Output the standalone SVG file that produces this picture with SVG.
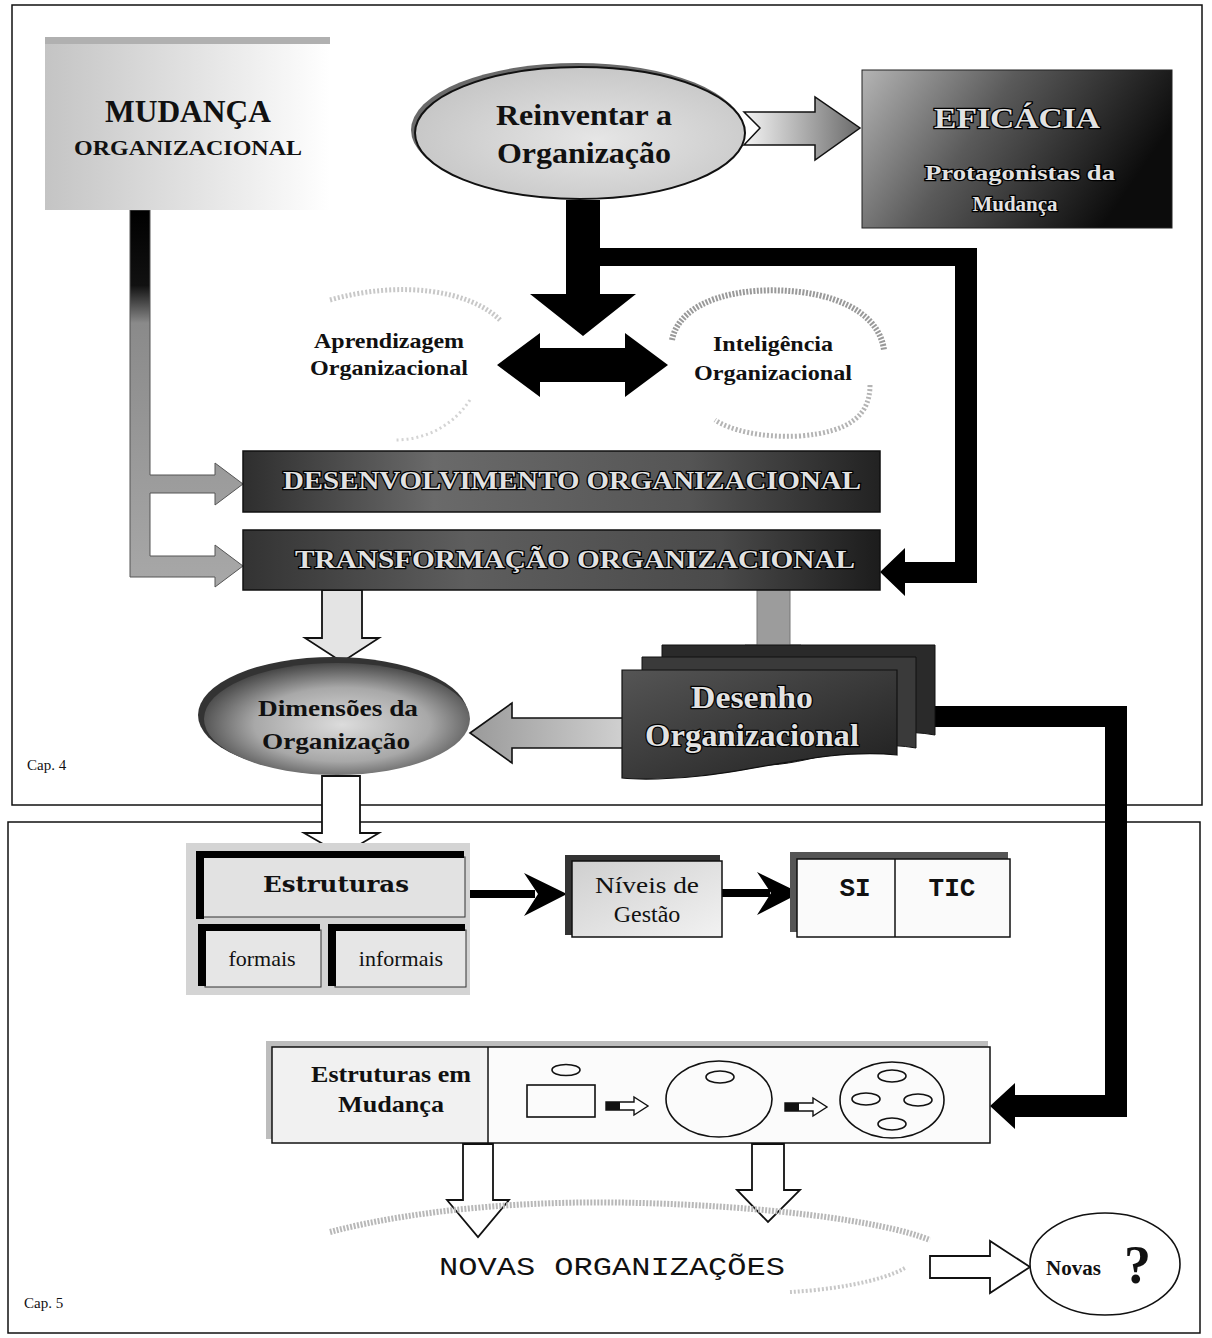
<svg xmlns="http://www.w3.org/2000/svg" width="1212" height="1338" viewBox="0 0 1212 1338">
  <style>
    .panel { fill: #ffffff; stroke: #111; stroke-width: 1.5; }
    .bs { font-family: "Liberation Serif", "Times New Roman", serif; font-weight: bold; fill: #111; }
    .rs { font-family: "Liberation Serif", "Times New Roman", serif; fill: #111; }
    .mono { font-family: "Liberation Mono", "Courier New", monospace; fill: #111; }
    .outl { font-family: "Liberation Serif", "Times New Roman", serif; font-weight: bold; fill: #e2e2e2; stroke: #000; stroke-width: 2.4; paint-order: stroke; }
    .hollow { fill: #ffffff; stroke: #111; stroke-width: 1.8; stroke-linejoin: miter; }
    .solid { fill: #000; }
    .box { fill: #e9e9e9; stroke: #111; stroke-width: 1.5; }
    .thin { fill: none; stroke: #111; stroke-width: 1.6; }
  </style>
  <defs>
    <linearGradient id="gMud" x1="0" y1="0" x2="1" y2="0">
      <stop offset="0" stop-color="#c4c4c4"/>
      <stop offset="0.45" stop-color="#dedede"/>
      <stop offset="1" stop-color="#ffffff"/>
    </linearGradient>
    <linearGradient id="gEfi" x1="0" y1="0" x2="1" y2="0.35">
      <stop offset="0" stop-color="#b4b4b4"/>
      <stop offset="0.45" stop-color="#5a5a5a"/>
      <stop offset="1" stop-color="#0c0c0c"/>
    </linearGradient>
    <linearGradient id="gArrR" x1="0" y1="0" x2="1" y2="0">
      <stop offset="0" stop-color="#f4f4f4"/>
      <stop offset="1" stop-color="#6a6a6a"/>
    </linearGradient>
    <linearGradient id="gBar" x1="0" y1="0" x2="1" y2="0">
      <stop offset="0" stop-color="#2e2e2e"/>
      <stop offset="0.3" stop-color="#6a6a6a"/>
      <stop offset="0.7" stop-color="#555"/>
      <stop offset="1" stop-color="#222"/>
    </linearGradient>
    <linearGradient id="gBar2" x1="0" y1="0" x2="1" y2="0">
      <stop offset="0" stop-color="#333"/>
      <stop offset="0.35" stop-color="#5e5e5e"/>
      <stop offset="0.75" stop-color="#4a4a4a"/>
      <stop offset="1" stop-color="#1c1c1c"/>
    </linearGradient>
    <linearGradient id="gStem" x1="0" y1="0" x2="0" y2="1">
      <stop offset="0" stop-color="#000"/>
      <stop offset="0.2" stop-color="#111"/>
      <stop offset="0.3" stop-color="#8a8a8a"/>
      <stop offset="1" stop-color="#a8a8a8"/>
    </linearGradient>
    <radialGradient id="gDim" cx="0.52" cy="0.55" r="0.6">
      <stop offset="0" stop-color="#dcdcdc"/>
      <stop offset="0.55" stop-color="#a8a8a8"/>
      <stop offset="1" stop-color="#333"/>
    </radialGradient>
    <radialGradient id="gRein" cx="0.55" cy="0.55" r="0.65">
      <stop offset="0" stop-color="#e6e6e6"/>
      <stop offset="1" stop-color="#c2c2c2"/>
    </radialGradient>
    <linearGradient id="gDoc" x1="0" y1="0" x2="1" y2="1">
      <stop offset="0" stop-color="#555"/>
      <stop offset="0.5" stop-color="#3a3a3a"/>
      <stop offset="1" stop-color="#1e1e1e"/>
    </linearGradient>
    <linearGradient id="gLeft" x1="0" y1="0" x2="1" y2="0">
      <stop offset="0" stop-color="#9a9a9a"/>
      <stop offset="1" stop-color="#d0d0d0"/>
    </linearGradient>
    <linearGradient id="gShade" x1="0" y1="0" x2="1" y2="1">
      <stop offset="0" stop-color="#cfcfcf"/>
      <stop offset="1" stop-color="#f2f2f2"/>
    </linearGradient>
  </defs>

  <!-- chapter panels -->
  <rect class="panel" x="12" y="5" width="1190" height="800"/>
  <rect class="panel" x="8" y="822" width="1192" height="511"/>
  <text class="rs" x="27" y="770" font-size="15">Cap. 4</text>
  <text class="rs" x="24" y="1308" font-size="15">Cap. 5</text>

  <!-- connectors -->
  <g id="connectors">
    <!-- stem from MUDANÇA to the two bars -->
    <path d="M130,210 L150,210 L150,475 L215,475 L215,463 L243,484 L215,505 L215,493 L150,493 L150,556 L215,556 L215,545 L243,566 L215,587 L215,577 L130,577 Z" fill="url(#gStem)" stroke="#555" stroke-width="1"/>
    <!-- Reinventar -> EFICÁCIA -->
    <path d="M744,112 L815,112 L815,97 L860,128 L815,160 L815,145 L744,145 L760,128 Z" fill="url(#gArrR)" stroke="#111" stroke-width="1.5"/>
    <!-- Reinventar down to the pair, with branch to TRANSFORMAÇÃO -->
    <path class="solid" d="M566,200 L600,200 L600,294 L636,294 L583,336 L530,294 L566,294 Z"/>
    <path class="solid" d="M600,248 L977,248 L977,583 L905,583 L905,596 L880,572 L905,548 L905,562 L955,562 L955,266 L600,266 Z"/>
    <!-- Aprendizagem <-> Inteligência -->
    <path class="solid" d="M497,365 L540,333 L540,348 L625,348 L625,333 L668,365 L625,397 L625,382 L540,382 L540,397 Z"/>
    <!-- TRANSFORMAÇÃO -> Dimensões -->
    <path d="M322,590 L322,638 L305,638 L342,662 L379,638 L362,638 L362,590 Z" fill="#e4e4e4" stroke="#111" stroke-width="1.8"/>
    <!-- TRANSFORMAÇÃO -> Desenho -->
    <path d="M757,590 L757,645 L745,645 L773,667 L801,645 L790,645 L790,590 Z" fill="#9c9c9c" stroke="#777" stroke-width="1"/>
    <!-- Desenho -> Dimensões -->
    <path d="M470,733 L512,703 L512,718 L624,718 L624,748 L512,748 L512,763 Z" fill="url(#gLeft)" stroke="#111" stroke-width="1.6"/>
    <!-- Desenho -> Estruturas em Mudança -->
    <path class="solid" d="M930,706 L1127,706 L1127,1117 L1015,1117 L1015,1129 L990,1106 L1015,1083 L1015,1095 L1105,1095 L1105,727 L930,727 Z"/>
    <!-- Dimensões -> Estruturas -->
    <path class="hollow" d="M322,776 L322,833 L304,833 L342,855 L379,833 L360,833 L360,776 Z"/>
    <!-- Estruturas -> Níveis -->
    <path class="solid" d="M470,890 L535,890 L535,898 L470,898 Z"/>
    <path class="solid" d="M567,894 L524,873 L538,894 L524,916 Z"/>
    <!-- Níveis -> SI/TIC -->
    <path class="solid" d="M722,889 L770,889 L770,897 L722,897 Z"/>
    <path class="solid" d="M800,893 L757,872 L771,893 L757,915 Z"/>
    <!-- Estruturas em Mudança -> NOVAS ORGANIZAÇÕES -->
    <path class="hollow" d="M463,1144 L463,1200 L447,1200 L478,1237 L509,1200 L493,1200 L493,1144 Z"/>
    <path class="hollow" d="M752,1144 L752,1190 L737,1190 L768,1222 L800,1190 L784,1190 L784,1144 Z"/>
    <!-- NOVAS ORGANIZAÇÕES -> Novas ? -->
    <path class="hollow" d="M930,1256 L990,1256 L990,1241 L1030,1267 L990,1293 L990,1278 L930,1278 Z"/>
  </g>

  <!-- MUDANÇA ORGANIZACIONAL -->
  <g id="mudanca">
    <rect x="45" y="37" width="285" height="173" fill="url(#gMud)"/>
    <rect x="45" y="37" width="285" height="7" fill="#b0b0b0"/>
    <text class="bs" x="188" y="122" font-size="31" text-anchor="middle" textLength="166" lengthAdjust="spacingAndGlyphs">MUDANÇA</text>
    <text class="bs" x="188" y="155" font-size="21" text-anchor="middle" textLength="228" lengthAdjust="spacingAndGlyphs">ORGANIZACIONAL</text>
  </g>

  <!-- Reinventar a Organização -->
  <g id="reinventar">
    <ellipse cx="577" cy="130" rx="166" ry="67" fill="#6a6a6a"/>
    <ellipse cx="580" cy="133" rx="165" ry="66" fill="url(#gRein)" stroke="#111" stroke-width="2"/>
    <text class="bs" x="584" y="125" font-size="30" text-anchor="middle" textLength="176" lengthAdjust="spacingAndGlyphs">Reinventar a</text>
    <text class="bs" x="584" y="163" font-size="30" text-anchor="middle" textLength="174" lengthAdjust="spacingAndGlyphs">Organização</text>
  </g>

  <!-- EFICÁCIA -->
  <g id="eficacia">
    <rect x="862" y="70" width="310" height="158" fill="url(#gEfi)" stroke="#222" stroke-width="1"/>
    <text class="outl" x="1017" y="128" font-size="29" text-anchor="middle" textLength="166" lengthAdjust="spacingAndGlyphs">EFICÁCIA</text>
    <text class="outl" x="1020" y="180" font-size="21" text-anchor="middle" stroke-width="1.6" textLength="190" lengthAdjust="spacingAndGlyphs">Protagonistas da</text>
    <text class="outl" x="1015" y="211" font-size="21" text-anchor="middle" stroke-width="1.6">Mudança</text>
  </g>

  <!-- Aprendizagem Organizacional -->
  <g id="aprendizagem">
    <path d="M330,300 C400,280 470,290 500,320" fill="none" stroke="#c8c8c8" stroke-width="5" stroke-dasharray="2 2"/>
    <path d="M470,400 C450,430 420,440 395,440" fill="none" stroke="#d4d4d4" stroke-width="3" stroke-dasharray="2 3"/>
    <text class="bs" x="389" y="348" font-size="21" text-anchor="middle" textLength="150" lengthAdjust="spacingAndGlyphs">Aprendizagem</text>
    <text class="bs" x="389" y="375" font-size="21" text-anchor="middle" textLength="158" lengthAdjust="spacingAndGlyphs">Organizacional</text>
  </g>

  <!-- Inteligência Organizacional -->
  <g id="inteligencia">
    <path d="M672,340 C680,300 740,285 800,292 C850,298 880,320 884,350" fill="none" stroke="#9a9a9a" stroke-width="6" stroke-dasharray="2 1.5"/>
    <path d="M870,385 C870,415 850,432 800,436 C760,438 730,430 715,420" fill="none" stroke="#b4b4b4" stroke-width="5" stroke-dasharray="2 2"/>
    <text class="bs" x="773" y="351" font-size="21" text-anchor="middle" textLength="120" lengthAdjust="spacingAndGlyphs">Inteligência</text>
    <text class="bs" x="773" y="380" font-size="21" text-anchor="middle" textLength="158" lengthAdjust="spacingAndGlyphs">Organizacional</text>
  </g>

  <!-- DESENVOLVIMENTO ORGANIZACIONAL -->
  <g id="desenvolvimento">
    <rect x="243" y="451" width="637" height="61" fill="url(#gBar)" stroke="#111" stroke-width="1.5"/>
    <text class="outl" x="572" y="489" font-size="25" text-anchor="middle" textLength="578" lengthAdjust="spacingAndGlyphs">DESENVOLVIMENTO ORGANIZACIONAL</text>
  </g>

  <!-- TRANSFORMAÇÃO ORGANIZACIONAL -->
  <g id="transformacao">
    <rect x="243" y="530" width="637" height="60" fill="url(#gBar2)" stroke="#111" stroke-width="1.5"/>
    <text class="outl" x="575" y="568" font-size="25" text-anchor="middle" textLength="560" lengthAdjust="spacingAndGlyphs">TRANSFORMAÇÃO ORGANIZACIONAL</text>
  </g>

  <!-- Dimensões da Organização -->
  <g id="dimensoes">
    <ellipse cx="333" cy="715" rx="135" ry="58" fill="#333"/>
    <ellipse cx="337" cy="719" rx="133" ry="56" fill="url(#gDim)"/>
    <text class="bs" x="338" y="716" font-size="24" text-anchor="middle" textLength="160" lengthAdjust="spacingAndGlyphs">Dimensões da</text>
    <text class="bs" x="336" y="749" font-size="24" text-anchor="middle" textLength="148" lengthAdjust="spacingAndGlyphs">Organização</text>
  </g>

  <!-- Desenho Organizacional (stack of documents) -->
  <g id="desenho">
    <path d="M662,645 H935 V735 C880,725 840,748 800,752 L662,752 Z" fill="#2a2a2a" stroke="#111" stroke-width="1"/>
    <path d="M642,657 H916 V748 C860,738 820,762 770,765 L642,765 Z" fill="#3a3a3a" stroke="#111" stroke-width="1"/>
    <path d="M622,670 H897 V755 C830,748 760,770 700,776 C670,779 640,780 622,778 Z" fill="url(#gDoc)" stroke="#111" stroke-width="1.2"/>
    <text class="outl" x="752" y="708" font-size="31" text-anchor="middle" textLength="122" lengthAdjust="spacingAndGlyphs">Desenho</text>
    <text class="outl" x="752" y="746" font-size="31" text-anchor="middle" textLength="214" lengthAdjust="spacingAndGlyphs">Organizacional</text>
  </g>

  <!-- Estruturas / formais / informais -->
  <g id="estruturas">
    <rect x="186" y="843" width="284" height="152" fill="#d4d4d4"/>
    <rect x="203" y="857" width="262" height="60" fill="#e2e2e2" stroke="#333" stroke-width="1"/>
    <rect x="196" y="851" width="268" height="7" fill="#000"/>
    <rect x="196" y="851" width="8" height="68" fill="#000"/>
    <text x="336" y="892" font-family="'DejaVu Serif', 'Liberation Serif', serif" font-weight="bold" font-size="22" fill="#111" text-anchor="middle" textLength="146" lengthAdjust="spacingAndGlyphs">Estruturas</text>
  </g>
  <g id="formais">
    <rect x="205" y="930" width="116" height="57" fill="#e6e6e6" stroke="#333" stroke-width="1"/>
    <rect x="198" y="924" width="122" height="7" fill="#000"/>
    <rect x="198" y="924" width="8" height="62" fill="#000"/>
    <text class="rs" x="262" y="966" font-size="22" text-anchor="middle">formais</text>
  </g>
  <g id="informais">
    <rect x="335" y="930" width="131" height="57" fill="#e6e6e6" stroke="#333" stroke-width="1"/>
    <rect x="328" y="924" width="137" height="7" fill="#000"/>
    <rect x="328" y="924" width="8" height="62" fill="#000"/>
    <text class="rs" x="401" y="966" font-size="22" text-anchor="middle">informais</text>
  </g>

  <!-- Níveis de Gestão -->
  <g id="niveis">
    <rect x="565" y="855" width="155" height="80" fill="#333"/>
    <rect x="572" y="861" width="150" height="76" fill="url(#gShade)" stroke="#111" stroke-width="1.5"/>
    <text class="rs" x="647" y="893" font-size="24" text-anchor="middle" textLength="104" lengthAdjust="spacingAndGlyphs">Níveis de</text>
    <text class="rs" x="647" y="922" font-size="24" text-anchor="middle">Gestão</text>
  </g>

  <!-- SI | TIC -->
  <g id="si-tic">
    <rect x="790" y="852" width="218" height="80" fill="#555"/>
    <rect x="797" y="859" width="213" height="78" fill="#fafafa" stroke="#111" stroke-width="1.5"/>
    <line x1="895" y1="859" x2="895" y2="937" stroke="#111" stroke-width="1.5"/>
    <text class="mono" x="855" y="896" font-size="26" font-weight="bold" text-anchor="middle">SI</text>
    <text class="mono" x="952" y="896" font-size="26" font-weight="bold" text-anchor="middle">TIC</text>
  </g>

  <!-- Estruturas em Mudança -->
  <g id="estruturas-mudanca">
    <rect x="266" y="1041" width="722" height="98" fill="#bdbdbd"/>
    <rect x="272" y="1047" width="718" height="96" fill="#fbfbfb" stroke="#111" stroke-width="1.5"/>
    <rect x="273" y="1048" width="214" height="94" fill="#f1f1f1"/>
    <line x1="488" y1="1047" x2="488" y2="1143" stroke="#111" stroke-width="1.5"/>
    <text class="bs" x="391" y="1082" font-size="24" text-anchor="middle" textLength="160" lengthAdjust="spacingAndGlyphs">Estruturas em</text>
    <text class="bs" x="391" y="1112" font-size="24" text-anchor="middle" textLength="106" lengthAdjust="spacingAndGlyphs">Mudança</text>
    <!-- evolution of structures -->
    <ellipse class="thin" cx="566" cy="1070" rx="14" ry="5.5"/>
    <rect class="thin" x="527" y="1085" width="68" height="32"/>
    <path d="M606,1102 L634,1102 L634,1097 L648,1106 L634,1115 L634,1110 L606,1110 Z" fill="#fff" stroke="#111" stroke-width="1.4"/>
    <path d="M606,1102 L620,1102 L620,1110 L606,1110 Z" fill="#111"/>
    <ellipse class="thin" cx="719" cy="1099" rx="53" ry="38"/>
    <ellipse class="thin" cx="720" cy="1077" rx="14" ry="6"/>
    <path d="M785,1103 L813,1103 L813,1098 L827,1107 L813,1116 L813,1111 L785,1111 Z" fill="#fff" stroke="#111" stroke-width="1.4"/>
    <path d="M785,1103 L799,1103 L799,1111 L785,1111 Z" fill="#111"/>
    <ellipse class="thin" cx="892" cy="1100" rx="52" ry="38"/>
    <ellipse class="thin" cx="892" cy="1076" rx="14" ry="6"/>
    <ellipse class="thin" cx="866" cy="1099" rx="14" ry="6"/>
    <ellipse class="thin" cx="918" cy="1100" rx="14" ry="6"/>
    <ellipse class="thin" cx="892" cy="1124" rx="14" ry="6"/>
  </g>

  <!-- NOVAS ORGANIZAÇÕES -->
  <g id="novas-organizacoes">
    <path d="M330,1232 C420,1208 540,1200 640,1203 C760,1206 880,1220 930,1240" fill="none" stroke="#b8b8b8" stroke-width="6" stroke-dasharray="2 1.5"/>
    <path d="M790,1292 C830,1290 880,1282 905,1268" fill="none" stroke="#c8c8c8" stroke-width="4" stroke-dasharray="2 2"/>
    <text class="mono" x="612" y="1275" font-size="25" text-anchor="middle" textLength="346" lengthAdjust="spacingAndGlyphs">NOVAS ORGANIZAÇÕES</text>
  </g>

  <!-- Novas ? -->
  <g id="novas">
    <ellipse cx="1105" cy="1264" rx="75" ry="51" fill="#fff" stroke="#111" stroke-width="1.6"/>
    <text class="bs" x="1046" y="1275" font-size="21">Novas</text>
    <text class="bs" x="1124" y="1283" font-size="54">?</text>
  </g>
</svg>
